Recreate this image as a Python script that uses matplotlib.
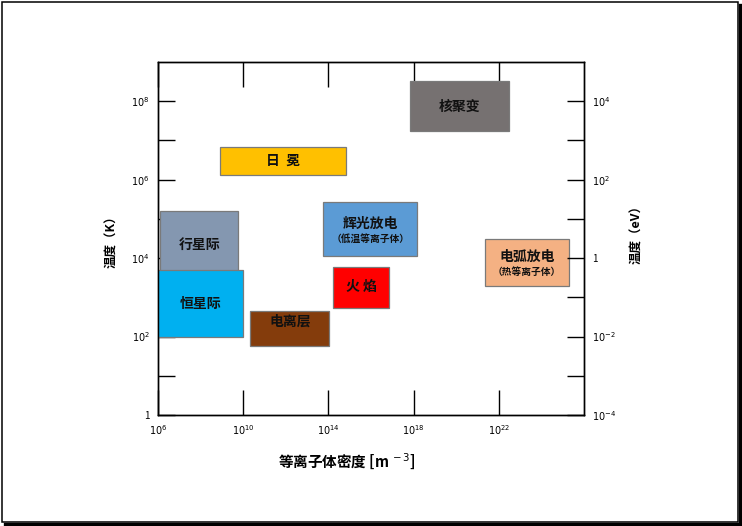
import matplotlib
matplotlib.use('Agg')
import matplotlib.pyplot as plt
from matplotlib.patches import Rectangle
from matplotlib.lines import Line2D
from matplotlib.ticker import FixedLocator, FixedFormatter, NullLocator

plt.rcParams['font.family'] = ['Noto Sans CJK SC', 'DejaVu Sans']
plt.rcParams['mathtext.fontset'] = 'dejavusans'

# Plasma regions: density range [m^-3] and temperature range [K]
names = ['日冕', '行星际', '恒星际', '电离层', '辉光放电', '火焰', '核聚变', '电弧放电']
subnames = ['', '', '', '', '（低温等离子体）', '', '', '（热等离子体）']
dens_lo = [8.3e8, 1.3e6, 1.05e6, 2.2e10, 5.8e13, 1.7e14, 7.0e17, 2.3e21]
dens_hi = [6.9e14, 5.9e9, 1.0e10, 1.1e14, 1.5e18, 7.2e16, 2.9e22, 2.0e25]
temp_lo = [1.3e6, 2.5e3, 95, 58, 1.1e4, 540, 1.7e7, 2.0e3]
temp_hi = [6.8e6, 1.6e5, 5.1e3, 460, 2.7e5, 5.9e3, 3.2e8, 3.0e4]
colors = ['#FFC000', '#8497B0', '#00B0F0', '#843C0C', '#5B9BD5', '#FF0000', '#767171', '#F4B183']
labels_show = ['日  冕', '行星际', '恒星际', '电离层', '辉光放电', '火 焰', '核聚变', '电弧放电']

x_ticks = [1e6, 1e10, 1e14, 1e18, 1e22]
x_ticklabels = ['$10^{6}$', '$10^{10}$', '$10^{14}$', '$10^{18}$', '$10^{22}$']
k_exps = list(range(0, 9))
ev_exps = list(range(-4, 5))

fig = plt.figure(figsize=(7.42, 5.26), dpi=100)
ax = fig.add_axes([158 / 742, 1 - 415 / 526, 426 / 742, 353 / 526])

ax.set_xscale('log')
ax.set_yscale('log')
ax.set_xlim(1e6, 1e26)
ax.set_ylim(1, 1e9)

for i in range(len(names)):
    x0, x1 = dens_lo[i], dens_hi[i]
    y0, y1 = temp_lo[i], temp_hi[i]
    ax.add_patch(Rectangle((x0, y0), x1 - x0, y1 - y0, facecolor=colors[i],
                           edgecolor='#7a7a7a', linewidth=0.9, zorder=3))
    xc = (x0 * x1) ** 0.5
    yc = (y0 * y1) ** 0.5
    if names[i] == '行星际':
        yc = 2.2e4
    if names[i] == '电离层':
        yc = 240
    if subnames[i]:
        ax.text(xc, yc * 1.35, labels_show[i], ha='center', va='center',
                fontsize=10, fontweight='bold', color='#111111', zorder=4)
        ax.text(xc, yc / 1.75, subnames[i], ha='center', va='center',
                fontsize=7, fontweight='bold', color='#111111', zorder=4)
    else:
        ax.text(xc, yc, labels_show[i], ha='center', va='center',
                fontsize=10, fontweight='bold', color='#111111', zorder=4)

ax.xaxis.set_major_locator(FixedLocator(x_ticks))
ax.xaxis.set_major_formatter(FixedFormatter(x_ticklabels))
ax.xaxis.set_minor_locator(NullLocator())
ax.tick_params(axis='x', which='major', direction='in', length=18, width=1,
               top=True, labelsize=7, pad=6)

ax.yaxis.set_major_locator(FixedLocator([10.0 ** k for k in k_exps]))
ax.yaxis.set_major_formatter(FixedFormatter(
    ['1' if k == 0 else ('$10^{%d}$' % k if k % 2 == 0 else '') for k in k_exps]))
ax.yaxis.set_minor_locator(NullLocator())
ax.tick_params(axis='y', which='major', direction='in', length=12, width=1,
               labelsize=7, pad=6)

ax2 = ax.twinx()
ax2.set_yscale('log')
ax2.set_ylim(1e-4, 1e5)
ax2.yaxis.set_major_locator(FixedLocator([10.0 ** k for k in ev_exps]))
ax2.yaxis.set_major_formatter(FixedFormatter(
    ['1' if k == 0 else ('$10^{%d}$' % k if k % 2 == 0 else '') for k in ev_exps]))
ax2.yaxis.set_minor_locator(NullLocator())
ax2.tick_params(axis='y', which='major', direction='in', length=12, width=1,
                labelsize=7, pad=6)

for a in (ax, ax2):
    for s in a.spines.values():
        s.set_linewidth(1)
        s.set_zorder(2.6)

ax.set_xlabel('等离子体密度 [m$^{\\,-3}$]', fontsize=10.5, fontweight='bold')
ax.xaxis.set_label_coords(0.443, -0.104)
ax.set_ylabel('温度（K）', fontsize=9, fontweight='bold')
ax.yaxis.set_label_coords(-0.094, 0.5)
ax2.set_ylabel('温度（eV）', fontsize=9, fontweight='bold', rotation=90)
ax2.yaxis.set_label_coords(1.108, 0.52)

# frame with drop shadow around the whole picture
fig.patches.append(Rectangle((1.5 / 742, 1 - 522 / 526), 736 / 742, 520.5 / 526,
                             transform=fig.transFigure, fill=False,
                             edgecolor='black', linewidth=1.1))
fig.lines.append(Line2D([739.5 / 742, 739.5 / 742], [1 - 525 / 526, 1 - 5 / 526],
                        transform=fig.transFigure, color='black', linewidth=2.4))
fig.lines.append(Line2D([5 / 742, 741 / 742], [1 - 523.5 / 526, 1 - 523.5 / 526],
                        transform=fig.transFigure, color='black', linewidth=2.4))

fig.savefig('out.png', dpi=100)
